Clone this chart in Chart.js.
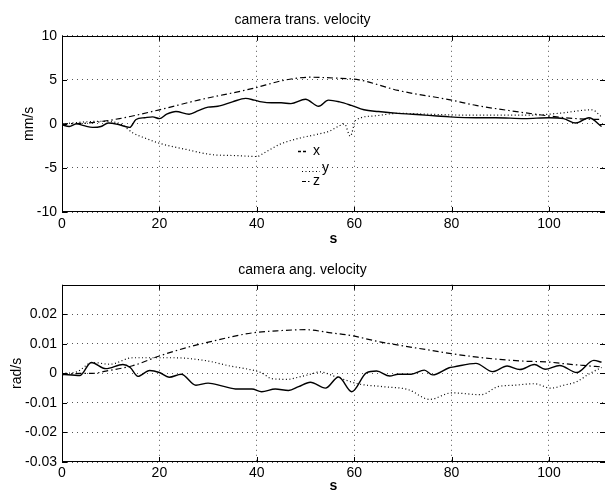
<!DOCTYPE html>
<html><head><meta charset="utf-8">
<script src="https://cdn.jsdelivr.net/npm/chart.js@4/dist/chart.umd.min.js"></script>
<style>
html,body{margin:0;padding:0;background:#fff;overflow:hidden;width:605px;height:493px;}
.box{position:absolute;left:0;width:605px;overflow:hidden;}
</style></head><body>
<div class="box" style="top:0;height:250px"><canvas id="c1" width="605" height="250"></canvas></div>
<div class="box" style="top:250px;height:243px"><canvas id="c2" width="605" height="250"></canvas></div>
<script>
// ---- ticks ----
const xTicks = [0, 20, 40, 60, 80, 100];
const xMin = 0, xMax = 111.5;
const transTicks = [-10, -5, 0, 5, 10];
const angTicks = [-0.03, -0.02, -0.01, 0, 0.01, 0.02];
const titles = ['camera trans. velocity', 'camera ang. velocity'];
const yTitles = ['mm/s', 'rad/s'];
const legendNames = ['x', 'y', 'z'];

// ---- camera translational velocity (mm/s) ----
const transXt = [0,1.5,3,4.5,6.3,8,9.5,11.8,13.9,15.2,17,18.6,20,21.5,23.4,26.1,28,30,32,35,37.7,39.5,41,43,45,47,50,52.7,54.7,57,59.4,62,65,69,72,74.5,77,79.6,85,89,95,100,103,105.5,108.2,110.8];
const transXv = [-0.1,-0.3,0,-0.2,-0.4,-0.3,0.1,-0.1,-0.4,0.5,0.7,0.8,0.6,1.1,1.4,1.1,1.5,1.9,2.0,2.5,2.9,2.7,2.5,2.4,2.4,2.3,2.8,2.0,2.7,2.5,2.1,1.6,1.4,1.2,1.1,1.0,0.9,0.8,0.7,0.7,0.6,0.7,0.6,0.1,0.7,-0.3];
const transYt = [0,4,8,12,14.5,17,20,25.5,31,36,40,41.5,44.8,48.9,52.3,55,57,58,59.2,60.3,64,69,75,83,90,96,102,108.8,110.8];
const transYv = [0,0.2,0.3,0,-1.0,-1.6,-2.2,-2.9,-3.5,-3.6,-3.7,-3.3,-2.3,-1.6,-1.2,-0.8,-0.2,0,-1.4,0.4,0.9,1.2,1.1,1.0,1.0,1.0,1.2,1.6,0.8];
const transZt = [0,5.4,11.8,20,28,39,46,51,56,61,69,80,85,92,101.6,105.7,110.8];
const transZv = [0,0.1,0.6,1.6,2.7,4.0,5.0,5.3,5.2,5.0,3.8,2.7,2.1,1.5,0.8,0.6,0.5];

// ---- camera angular velocity (rad/s) ----
const angXt = [0,3.7,6,9,12.5,14,15.6,18,20,22,24.5,27.5,30,33,36,39,41,43.8,46.5,48.6,51,54.1,56.8,59.5,62.5,64.6,67.3,69,71.7,74.4,76.1,79.5,80.5,85,88.4,91.4,94,97,99.2,102.2,105.7,109.2,110.8];
const angXv = [-0.0003,-0.0007,0.0037,0.0016,0.003,0.002,-0.001,0.001,0.0003,-0.0013,-0.0003,-0.004,-0.0033,-0.0043,-0.0053,-0.0053,-0.0062,-0.0053,-0.0058,-0.0045,-0.003,-0.005,-0.0012,-0.0062,0.0002,0.0008,-0.0009,-0.0003,-0.0003,0.0011,-0.0005,0.0019,0.0022,0.0034,0.0006,0.0025,0.0013,0.003,0.0014,0.0027,0.0003,0.0044,0.0038];
const angYt = [0,3,6.3,9.8,14.5,22.7,29.6,34.5,38,41,43.1,46.5,48,51,53,56,61,66,71.1,75.5,80,86.1,89.5,92.9,97,100.4,103,105.7,108.4,110.8];
const angYv = [0,0.0005,0.0037,0.0031,0.0053,0.0053,0.0043,0.0025,0.0015,0.0002,-0.0018,-0.002,-0.0015,-0.0003,0.0005,-0.001,-0.0036,-0.0045,-0.0055,-0.0088,-0.0066,-0.0072,-0.0045,-0.004,-0.0035,-0.005,-0.004,-0.0028,0,0.002];
const angZt = [0,3.7,6.3,9,14.5,20,25.5,30.9,39,45,50,55.3,59.4,65.5,75.8,79.9,85.3,89.4,95.5,99.6,103,107,110.8];
const angZv = [-0.0005,0,0,0.0008,0.0026,0.0059,0.0087,0.0109,0.0137,0.0145,0.0148,0.0137,0.0128,0.0106,0.0078,0.0067,0.0055,0.0048,0.0041,0.0039,0.0033,0.0027,0.0022];

const FONT = "'Liberation Sans', Arial, Helvetica, sans-serif";
const pts = (t, v) => t.map((x, i) => ({x: x, y: v[i]}));
const STY = [
  {borderWidth: 1.4, borderDash: []},
  {borderWidth: 1.2, borderDash: [1, 2.5]},
  {borderWidth: 1.2, borderDash: [6, 3, 1.5, 3]}
];

const framePlugin = {
  id: 'frame',
  afterDatasetsDraw(chart) {
    const {ctx, chartArea: a, scales} = chart;
    ctx.save();
    ctx.strokeStyle = '#000'; ctx.lineWidth = 1; ctx.setLineDash([]);
    ctx.strokeRect(Math.round(a.left) + 0.5, Math.round(a.top) + 0.5, Math.round(a.right - a.left), Math.round(a.bottom - a.top) - 1);
    const L = 5;
    ctx.beginPath();
    scales.x.ticks.forEach(t => {
      const p = Math.round(scales.x.getPixelForValue(t.value)) + 0.5;
      ctx.moveTo(p, a.bottom); ctx.lineTo(p, a.bottom - L);
      ctx.moveTo(p, a.top); ctx.lineTo(p, a.top + L);
    });
    scales.y.ticks.forEach(t => {
      const p = Math.round(scales.y.getPixelForValue(t.value)) + 0.5;
      ctx.moveTo(a.left, p); ctx.lineTo(a.left + L, p);
      ctx.moveTo(a.right, p); ctx.lineTo(a.right - L, p);
    });
    ctx.stroke();
    ctx.restore();
  }
};

const legendPlugin = {
  id: 'mlegend',
  afterDatasetsDraw(chart, args, opts) {
    if (!opts.show) return;
    const ctx = chart.ctx;
    ctx.save();
    ctx.strokeStyle = '#000'; ctx.fillStyle = '#000';
    ctx.font = '14px ' + FONT; ctx.textBaseline = 'middle'; ctx.textAlign = 'left';
    const rows = [
      {x0: 298, x1: 307, y: 151, tx: 313},
      {x0: 302, x1: 320, y: 171, tx: 322, ty: 168},
      {x0: 302, x1: 311, y: 181, tx: 313}
    ];
    rows.forEach((r, i) => {
      ctx.lineWidth = STY[i].borderWidth;
      ctx.setLineDash(i === 0 ? [3, 2] : (i === 1 ? [1, 2.5] : [4, 2, 1.5, 2]));
      ctx.beginPath(); ctx.moveTo(r.x0, r.y + 0.5); ctx.lineTo(r.x1, r.y + 0.5); ctx.stroke();
      ctx.fillText(legendNames[i], r.tx, r.ty || r.y);
    });
    ctx.restore();
  }
};

function makeChart(id, series, yTicks, yMin, yMax, idx, cfg) {
  const datasets = series.map((s, i) => ({
    data: pts(s[0], s[1]),
    borderColor: '#000',
    borderWidth: STY[i].borderWidth,
    borderDash: STY[i].borderDash,
    pointRadius: 0,
    fill: false,
    cubicInterpolationMode: 'monotone'
  }));
  const gridOpt = {color: '#555', lineWidth: 1, drawTicks: false};
  return new Chart(document.getElementById(id), {
    type: 'line',
    data: {datasets},
    options: {
      responsive: false, animation: false, devicePixelRatio: 1,
      layout: {padding: 0},
      plugins: {
        legend: {display: false}, tooltip: {enabled: false},
        title: {display: true, text: titles[idx], color: '#000',
          font: {family: FONT, size: 14, weight: 'normal'},
          padding: {top: cfg.titleTop, bottom: cfg.titleBottom}},
        mlegend: {show: idx === 0}
      },
      scales: {
        x: {
          type: 'linear', min: xMin, max: xMax,
          afterBuildTicks: s => { s.ticks = xTicks.map(v => ({value: v})); },
          afterFit: s => { s.height = cfg.xH; },
          grid: Object.assign({}, gridOpt),
          border: {display: false, dash: [1, 4]},
          ticks: {color: '#000', padding: cfg.xPad, maxRotation: 0, font: {family: FONT, size: 14},
            callback: v => String(v)},
          title: {display: true, text: 's', color: '#000', font: {family: FONT, size: 14, weight: 'bold'},
            padding: {top: 0, bottom: cfg.sPad}}
        },
        y: {
          type: 'linear', min: yMin, max: yMax,
          afterBuildTicks: s => { s.ticks = yTicks.map(v => ({value: v})); },
          afterFit: s => { s.width = 62; },
          grid: Object.assign({}, gridOpt),
          border: {display: false, dash: [1, 4]},
          ticks: {color: '#000', padding: 5, font: {family: FONT, size: 14},
            callback: v => String(Math.round(v * 1000) / 1000)},
          title: {display: true, text: yTitles[idx], color: '#000', font: {family: FONT, size: 14},
            padding: {top: cfg.yTitlePad, bottom: 0}}
        }
      }
    },
    plugins: [framePlugin, legendPlugin]
  });
}

Chart.defaults.font.family = FONT;

const c1 = makeChart('c1', [[transXt, transXv], [transYt, transYv], [transZt, transZv]], transTicks, -10, 10, 0,
  {titleTop: 12, titleBottom: 7, xH: 38, xPad: 4, sPad: 2, yTitlePad: 21});
const c2 = makeChart('c2', [[angXt, angXv], [angYt, angYv], [angZt, angZv]], angTicks, -0.03, 0.03, 1,
  {titleTop: 12, titleBottom: 6, xH: 38, xPad: 3, sPad: 5, yTitlePad: 9});
</script>
</body></html>
